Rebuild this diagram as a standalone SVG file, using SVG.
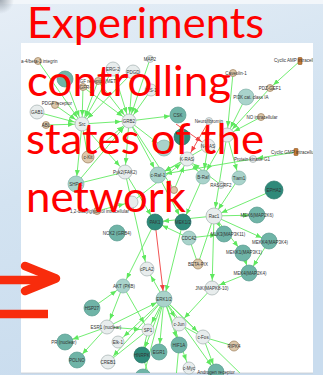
<svg xmlns="http://www.w3.org/2000/svg" width="323" height="375" viewBox="0 0 323 375">
<defs>
<linearGradient id="bg" x1="0" y1="0" x2="0.3" y2="1">
<stop offset="0" stop-color="#e6eef6"/>
<stop offset="0.5" stop-color="#d3e3f1"/>
<stop offset="1" stop-color="#c9dcee"/>
</linearGradient>
<radialGradient id="corner" cx="0" cy="0" r="1">
<stop offset="0" stop-color="#9aa3ad" stop-opacity="0.9"/>
<stop offset="1" stop-color="#9aa3ad" stop-opacity="0"/>
</radialGradient>
<clipPath id="panel"><rect x="21" y="43" width="292" height="330"/></clipPath>
<marker id="a8" viewBox="0 0 6 5" refX="14" refY="2.5" markerWidth="6" markerHeight="5" markerUnits="userSpaceOnUse" orient="auto"><path d="M0,0L6,2.5L0,5z" fill="#5fe85f"/></marker>
<marker id="a4" viewBox="0 0 6 5" refX="10.5" refY="2.5" markerWidth="6" markerHeight="5" markerUnits="userSpaceOnUse" orient="auto"><path d="M0,0L6,2.5L0,5z" fill="#5fe85f"/></marker>
<marker id="r8" viewBox="0 0 6 5" refX="14" refY="2.5" markerWidth="6" markerHeight="5" markerUnits="userSpaceOnUse" orient="auto"><path d="M0,0L6,2.5L0,5z" fill="#f04040"/></marker>
<style>
.e{stroke:#62ea62;stroke-width:0.9;fill:none}
.e8{stroke:#62ea62;stroke-width:0.9;fill:none;marker-end:url(#a8)}
.e4{stroke:#62ea62;stroke-width:0.9;fill:none;marker-end:url(#a4)}
.er{stroke:#f04040;stroke-width:0.9;fill:none;marker-end:url(#r8)}
.g{fill:#e8eded;stroke:#a4b0b0;stroke-width:0.7}
.lt{fill:#a9d3cb;stroke:#83b3ab;stroke-width:0.7}
.t{fill:#6fb4a7;stroke:#5a9c90;stroke-width:0.7}
.dt{fill:#2f8a7a;stroke:#2a7668;stroke-width:0.7}
.tan{fill:#dcc7aa;stroke:#9c7c58;stroke-width:0.7}
.mol{fill:#c57a35;stroke:#8a5220;stroke-width:0.6}
.l{font-family:"Liberation Sans",Arial,sans-serif;font-size:4.5px;fill:#333;text-anchor:middle}
.ls{font-family:"Liberation Sans",Arial,sans-serif;font-size:4.5px;fill:#333}
.title{font-family:Lato,"Open Sans",sans-serif;font-size:42px;fill:#ff0000}
</style>
</defs>

<!-- slide background -->
<rect x="0" y="0" width="323" height="375" fill="url(#bg)"/>
<rect x="0" y="0" width="323" height="4" fill="#f2f6fa"/>
<rect x="0" y="0" width="14" height="14" fill="url(#corner)"/>
<rect x="21" y="43" width="292" height="330" fill="#ffffff"/>
<line x1="21" y1="373" x2="313" y2="373" stroke="#c8ccd0" stroke-width="0.8"/>

<g id="connectors" clip-path="url(#panel)">
<path class="e8" d="M38,61L82,124"/>
<path class="e8" d="M65,79L82,124"/>
<path class="e8" d="M98,81L82,124"/>
<path class="e8" d="M98,81L129,121"/>
<path class="e8" d="M83,87L82,124"/>
<path class="e8" d="M83,87L129,121"/>
<path class="e8" d="M113,69L82,124"/>
<path class="e8" d="M113,69L129,121"/>
<path class="e8" d="M133,72L129,121"/>
<path class="e8" d="M133,72L82,124"/>
<path class="e8" d="M150,59L129,121"/>
<path class="e8" d="M151,90L129,121"/>
<path class="e8" d="M55,105L82,124"/>
<path class="e8" d="M37,112L82,124"/>
<path class="e8" d="M46,125L82,124"/>
<path class="e8" d="M82,124L129,121"/>
<path class="e8" d="M129,121L178,115"/>
<path class="e8" d="M82,124L76,184"/>
<path class="e8" d="M76,184L129,121"/>
<path class="e" d="M82,124L88,157"/>
<path class="e8" d="M88,157L129,121"/>
<path class="e8" d="M82,124L125,172"/>
<path class="e8" d="M129,121L125,172"/>
<path class="e8" d="M129,121L158,175"/>
<path class="e8" d="M129,121L164,148"/>
<path class="e4" d="M129,121L174,190"/>
<path class="e4" d="M300,61L270,88"/>
<path class="e8" d="M270,88L227,135"/>
<path class="e8" d="M233,73L227,135"/>
<path class="e8" d="M246,97L227,135"/>
<path class="e8" d="M261,117L227,135"/>
<path class="e8" d="M227,135L203,177"/>
<path class="e8" d="M227,135L239,178"/>
<path class="e8" d="M227,135L214,216"/>
<path class="e4" d="M296,152L253,159"/>
<path class="e8" d="M253,159L158,175"/>
<path class="e8" d="M187,159L203,177"/>
<path class="e8" d="M187,159L158,175"/>
<path class="e8" d="M208,146L203,177"/>
<path class="e8" d="M208,146L158,175"/>
<path class="e8" d="M221,185L187,159"/>
<path class="e8" d="M174,190L187,159"/>
<path class="e8" d="M239,178L214,216"/>
<path class="e8" d="M274,190L214,216"/>
<path class="e8" d="M203,177L183,222"/>
<path class="e8" d="M158,175L183,222"/>
<path class="e8" d="M214,216L155,222"/>
<path class="e8" d="M214,216L257,215"/>
<path class="e8" d="M214,216L224,234"/>
<path class="e8" d="M214,216L269,241"/>
<path class="e8" d="M214,216L243,253"/>
<path class="e8" d="M189,238L224,234"/>
<path class="e8" d="M189,238L155,222"/>
<path class="e8" d="M214,216L212,288"/>
<path class="e8" d="M243,253L249,273"/>
<path class="e8" d="M269,241L249,273"/>
<path class="e8" d="M249,273L212,288"/>
<path class="e8" d="M212,288L179,324"/>
<path class="e" d="M214,216L198,264"/>
<path class="e" d="M189,238L198,264"/>
<path class="e8" d="M97,211L132,202"/>
<path class="e8" d="M132,202L187,159"/>
<path class="e8" d="M125,172L147,269"/>
<path class="e8" d="M125,172L155,222"/>
<path class="e" d="M76,184L125,172"/>
<path class="e8" d="M155,222L123,286"/>
<path class="e8" d="M183,222L164,299"/>
<path class="er" d="M155,222L164,299"/>
<path class="er" d="M209,121L187,159"/>
<path class="er" d="M209,121L208,146"/>
<path class="er" d="M176,124L208,146"/>
<path class="e8" d="M164,299L147,269"/>
<path class="e8" d="M92,308L123,286"/>
<path class="e8" d="M123,286L107,327"/>
<path class="e8" d="M123,286L148,330"/>
<path class="e8" d="M107,327L65,342"/>
<path class="e8" d="M107,327L77,360"/>
<path class="e8" d="M107,327L148,330"/>
<path class="e8" d="M107,327L164,299"/>
<path class="e8" d="M164,299L179,324"/>
<path class="e8" d="M164,299L203,337"/>
<path class="e8" d="M164,299L179,345"/>
<path class="e8" d="M164,299L159,352"/>
<path class="e8" d="M164,299L148,330"/>
<path class="e8" d="M164,299L118,342"/>
<path class="e8" d="M164,299L142,355"/>
<path class="e8" d="M164,299L108,362"/>
<path class="e8" d="M164,299L189,368"/>
<path class="e8" d="M164,299L216,372"/>
<path class="e" d="M164,299L245,378"/>
<path class="e" d="M164,299L143,378"/>
<path class="e" d="M203,337L234,346"/>
<path class="e8" d="M203,337L216,372"/>
<path class="e" d="M108,362L148,330"/>
<path class="e" d="M148,330L142,355"/>
<path class="e" d="M179,324L203,337"/>
<path class="e" d="M142,355L150,378"/>
<path class="e" d="M179,345L176,378"/>
</g>

<g id="n-integrin"><circle class="tan" cx="38" cy="61" r="3.5"/><text class="ls" x="21" y="62.6" clip-path="url(#panel)">a-4/beta-1 integrin</text></g>
<g id="n-x1"><circle class="t" cx="65" cy="79" r="8"/></g>
<g id="n-hgfr"><circle class="tan" cx="98" cy="81" r="3.5"/><text class="l" x="97" y="82.6">HGF receptor (MET)</text></g>
<g id="n-egfr1"><circle class="tan" cx="83" cy="87" r="3.5"/><text class="l" x="85" y="88.6">EGFR-1</text></g>
<g id="n-erg2"><circle class="g" cx="113" cy="69" r="7"/><text class="l" x="113" y="70.6">ERG-2</text></g>
<g id="n-pdgd"><circle class="g" cx="133" cy="72" r="7"/><text class="l" x="133" y="73.6">PDGD</text></g>
<g id="n-map2"><circle class="g" cx="150" cy="59" r="3.5"/><text class="l" x="150" y="60.6">MAP2</text></g>
<g id="n-irs1"><circle class="g" cx="151" cy="90" r="6"/><text class="l" x="151" y="91.6">IRS-1</text></g>
<g id="n-pdgfr"><circle class="tan" cx="55" cy="105" r="3.5"/><text class="l" x="57" y="104.6">PDGF receptor</text></g>
<g id="n-gab1"><circle class="g" cx="37" cy="112" r="7"/><text class="l" x="37" y="113.6">GAB1</text></g>
<g id="n-src"><circle class="g" cx="82" cy="124" r="7"/><text class="l" x="82" y="125.6">Src</text></g>
<g id="n-grb2"><circle class="g" cx="129" cy="121" r="7"/><text class="l" x="129" y="122.6">GRB2</text></g>
<g id="n-abl"><circle class="tan" cx="46" cy="125" r="3.5"/><text class="l" x="46" y="126.6">ABL</text></g>
<g id="n-csk"><circle class="t" cx="178" cy="115" r="8"/><text class="l" x="178" y="116.6">CSK</text></g>
<g id="n-nf1"><circle class="g" cx="209" cy="121" r="3.5"/><text class="l" x="209" y="122.6">Neurofibromin</text></g>
<g id="n-cav1"><circle class="tan" cx="233" cy="73" r="3.5"/><text class="l" x="236" y="74.6">Caveolin-1</text></g>
<g id="n-pi3k"><circle class="lt" cx="246" cy="97" r="8"/><text class="l" x="251" y="98.6">PI3K cat. class IA</text></g>
<g id="n-camp"><rect class="mol" x="298" y="57.5" width="4" height="7" rx="0.8"/><text class="ls" x="274" y="62.2" clip-path="url(#panel)">Cyclic AMP intracellular</text></g>
<g id="n-pdzgef"><circle class="tan" cx="270" cy="88" r="3.5"/><text class="l" x="270" y="89.6">PDZ-GEF1</text></g>
<g id="n-no"><circle class="tan" cx="261" cy="117" r="3.5"/><text class="l" x="262" y="118.6">NO intracellular</text></g>
<g id="n-rap1"><circle class="g" cx="227" cy="135" r="7"/></g>
<g id="n-rras"><circle class="dt" cx="182" cy="137" r="8"/></g>
<g id="n-x2"><circle class="lt" cx="164" cy="148" r="8"/></g>
<g id="n-nras"><circle class="g" cx="208" cy="146" r="7"/><text class="l" x="208" y="147.6">N-RAS</text></g>
<g id="n-kras"><circle class="g" cx="187" cy="159" r="7"/><text class="l" x="187" y="160.6">K-RAS</text></g>
<g id="n-cgmp"><rect class="mol" x="294" y="148.5" width="4" height="7" rx="0.8"/><text class="ls" x="271" y="153.6" clip-path="url(#panel)">Cyclic GMP intracellular</text></g>
<g id="n-pkg1"><circle class="g" cx="253" cy="159" r="3.5"/><text class="l" x="252" y="160.6">Protein kinase G1</text></g>
<g id="n-tiam1"><circle class="lt" cx="239" cy="178" r="7"/><text class="l" x="239" y="179.6">Tiam1</text></g>
<g id="n-braf"><circle class="lt" cx="203" cy="177" r="7"/><text class="l" x="203" y="178.6">B-Raf</text></g>
<g id="n-rasgrf2"><circle class="g" cx="221" cy="185" r="3.5"/><text class="l" x="221" y="186.6">RASGRF2</text></g>
<g id="n-craf"><circle class="lt" cx="158" cy="175" r="8"/><text class="l" x="158" y="176.6">c-Raf-1</text></g>
<g id="n-pyk2"><circle class="g" cx="125" cy="172" r="7"/><text class="l" x="125" y="173.6">Pyk2(FAK2)</text></g>
<g id="n-ckit"><circle class="tan" cx="88" cy="157" r="6"/><text class="l" x="88" y="158.6">c-Kit</text></g>
<g id="n-shp2"><circle class="lt" cx="76" cy="184" r="8"/><text class="l" x="76" y="185.6">SHP-2</text></g>
<g id="n-dag"><circle class="tan" cx="97" cy="211" r="3.5"/><text class="ls" x="70" y="212.6">1,2-diacylglycerol intracellular</text></g>
<g id="n-rasgrp"><circle class="g" cx="132" cy="202" r="6"/></g>
<g id="n-sos"><circle class="tan" cx="174" cy="190" r="3.5"/></g>
<g id="n-pak1"><circle class="dt" cx="155" cy="222" r="8"/><text class="l" x="155" y="223.6">PAK1</text></g>
<g id="n-mek12"><circle class="dt" cx="183" cy="222" r="8"/><text class="l" x="183" y="223.6">MEK1/2</text></g>
<g id="n-rac1"><circle class="g" cx="214" cy="216" r="8"/><text class="l" x="214" y="217.6">Rac1</text></g>
<g id="n-epha2"><circle class="dt" cx="274" cy="190" r="9"/><text class="l" x="274" y="191.6" fill="#eee">EPHA2</text></g>
<g id="n-mek6"><circle class="t" cx="257" cy="215" r="8"/><text class="l" x="257" y="216.6">MEK6(MAP2K6)</text></g>
<g id="n-cdc42"><circle class="lt" cx="189" cy="238" r="7"/><text class="l" x="189" y="239.6">CDC42</text></g>
<g id="n-nck2"><circle class="t" cx="117" cy="233" r="8"/><text class="l" x="117" y="234.6">NCK2 (GRB4)</text></g>
<g id="n-mlk3"><circle class="t" cx="224" cy="234" r="8"/><text class="l" x="228" y="235.6">MLK3(MAP3K11)</text></g>
<g id="n-mekk4"><circle class="t" cx="269" cy="241" r="8"/><text class="l" x="270" y="243.6">MEKK4(MAP3K4)</text></g>
<g id="n-mekk1"><circle class="t" cx="243" cy="253" r="8"/><text class="l" x="244" y="253.6">MEKK1(MAP3K1)</text></g>
<g id="n-betapix"><circle class="tan" cx="198" cy="264" r="5"/><text class="l" x="198" y="265.6">BETA-PIX</text></g>
<g id="n-mek4"><circle class="t" cx="249" cy="273" r="8"/><text class="l" x="250" y="274.6">MEK4(MAP2K4)</text></g>
<g id="n-jnk"><circle class="g" cx="212" cy="288" r="7"/><text class="l" x="212" y="289.6">JNK(MAPK8-10)</text></g>
<g id="n-erk"><circle class="lt" cx="164" cy="299" r="8"/><text class="l" x="164" y="300.6">ERK1/2</text></g>
<g id="n-cpla2"><circle class="g" cx="147" cy="269" r="7"/><text class="l" x="147" y="270.6">cPLA2</text></g>
<g id="n-akt"><circle class="lt" cx="123" cy="286" r="7"/><text class="l" x="124" y="287.6">AKT (PKB)</text></g>
<g id="n-hsp27"><circle class="t" cx="92" cy="308" r="8"/><text class="l" x="92" y="309.6">HSP27</text></g>
<g id="n-esr1"><circle class="g" cx="107" cy="327" r="7"/><text class="l" x="106" y="328.6">ESR1 (nuclear)</text></g>
<g id="n-sp1"><circle class="g" cx="148" cy="330" r="6"/><text class="l" x="148" y="331.6">SP1</text></g>
<g id="n-cjun"><circle class="g" cx="179" cy="324" r="7"/><text class="l" x="179" y="325.6">c-Jun</text></g>
<g id="n-cfos"><circle class="g" cx="203" cy="337" r="7"/><text class="l" x="203" y="338.6">c-Fos</text></g>
<g id="n-ripk4"><circle class="tan" cx="234" cy="346" r="5"/><text class="l" x="234" y="347.6">RIPK4</text></g>
<g id="n-hif1a"><circle class="t" cx="179" cy="345" r="8"/><text class="l" x="179" y="346.6">HIF1A</text></g>
<g id="n-egr1"><circle class="t" cx="159" cy="352" r="8"/><text class="l" x="159" y="353.6">EGR1</text></g>
<g id="n-hnrpk"><circle class="dt" cx="142" cy="355" r="8"/><text class="l" x="142" y="356.6">HNRPK</text></g>
<g id="n-pr"><circle class="t" cx="65" cy="342" r="8"/><text class="l" x="64" y="343.6">PR (nuclear)</text></g>
<g id="n-elk1"><circle class="g" cx="118" cy="342" r="6"/><text class="l" x="118" y="343.6">Elk-1</text></g>
<g id="n-polno"><circle class="t" cx="77" cy="360" r="8"/><text class="l" x="77" y="361.6">POLNO</text></g>
<g id="n-creb1"><circle class="g" cx="108" cy="362" r="7"/><text class="l" x="108" y="363.6">CREB1</text></g>
<g id="n-cmyc"><circle class="g" cx="189" cy="368" r="6"/><text class="l" x="189" y="369.6">c-Myc</text></g>
<g id="n-ar"><circle class="t" cx="216" cy="372" r="8"/><text class="l" x="216" y="373.6">Androgen receptor</text></g>
<g id="n-x3" clip-path="url(#panel)"><circle class="t" cx="143" cy="377" r="8"/></g>

<g id="title">
<text class="title" x="27" y="37.5" textLength="237" lengthAdjust="spacingAndGlyphs">Experiments</text>
<text class="title" x="27" y="95.5" textLength="204" lengthAdjust="spacingAndGlyphs">controlling</text>
<text class="title" x="26" y="153.5" textLength="238" lengthAdjust="spacingAndGlyphs">states of the</text>
<text class="title" x="26" y="212" textLength="160" lengthAdjust="spacingAndGlyphs">network</text>
</g>

<g id="red-arrow" fill="none" stroke="#f82c0c" stroke-width="8.5" stroke-linecap="round" stroke-linejoin="round">
<polyline points="25,266 56,278.5 25,291"/>
<line x1="-5" y1="280" x2="48" y2="280"/>
<line x1="-5" y1="314" x2="48" y2="314" stroke-linecap="butt"/>
</g>
</svg>
